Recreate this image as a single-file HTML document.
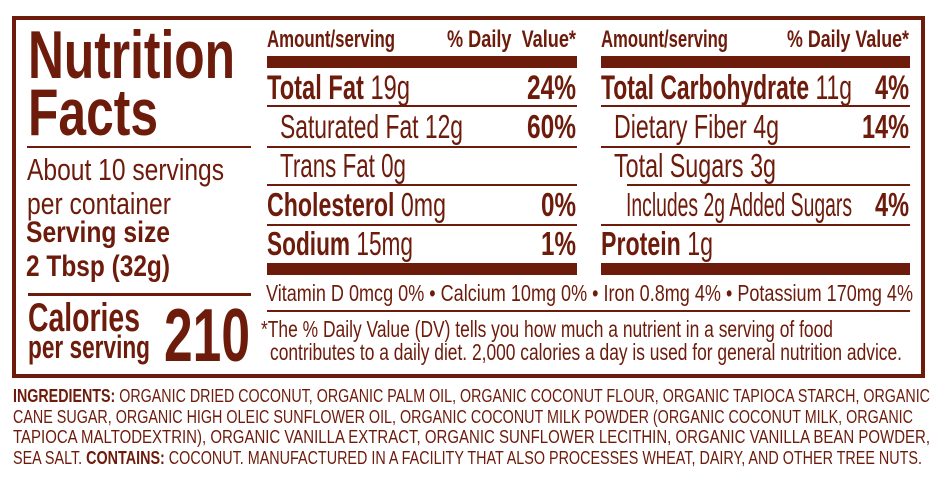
<!DOCTYPE html>
<html><head><meta charset="utf-8"><style>
html,body{margin:0;padding:0;background:#fff;width:945px;height:485px;overflow:hidden;position:relative}
body{color:#6d1b0b;font-family:"Liberation Sans",Arial,sans-serif}
.t{position:absolute;white-space:nowrap;line-height:1;transform-origin:0 0}
.b{font-weight:bold}
.r{position:absolute;background:#6d1b0b}
</style></head><body>
<div style="position:absolute;left:12px;top:16px;width:905px;height:354px;border:4px solid #6d1b0b"></div>

<div class="t b" style="left:28px;top:21px;font-size:68px" w="207">Nutrition</div>
<div class="t b" style="left:28px;top:79px;font-size:66px" w="130">Facts</div>
<div class="r" style="left:27px;top:146px;width:224px;height:2px"></div>
<div class="t" style="left:27px;top:154px;font-size:31px" w="197">About 10 servings</div>
<div class="t" style="left:27px;top:188px;font-size:31px" w="144">per container</div>
<div class="t b" style="left:26px;top:218px;font-size:30px" w="144">Serving size</div>
<div class="t b" style="left:26px;top:252px;font-size:30px" w="144">2 Tbsp (32g)</div>
<div class="r" style="left:28px;top:293px;width:223px;height:3px"></div>
<div class="t b" style="left:28px;top:298px;font-size:40px" w="112">Calories</div>
<div class="t b" style="left:28px;top:331px;font-size:32px" w="122">per serving</div>
<div class="t b" style="left:164px;top:298px;font-size:75px" w="86">210</div>

<!-- middle -->
<div class="t b" style="left:267px;top:28px;font-size:24px" w="128">Amount/serving</div>
<div class="t b" style="left:447px;top:28px;font-size:24px" w="129">% Daily&nbsp; Value*</div>
<div class="r" style="left:267px;top:56px;width:310px;height:12px"></div>
<div class="t" style="left:267px;top:71px;font-size:34px" w="143"><b>Total Fat</b> 19g</div>
<div class="t b" style="left:527px;top:71px;font-size:34px" w="49">24%</div>
<div class="r" style="left:267px;top:105px;width:310px;height:2px"></div>
<div class="t" style="left:280px;top:110px;font-size:33px" w="183">Saturated Fat 12g</div>
<div class="t b" style="left:527px;top:110px;font-size:33px" w="49">60%</div>
<div class="r" style="left:267px;top:146px;width:310px;height:2px"></div>
<div class="t" style="left:280px;top:149px;font-size:33px" w="126">Trans Fat 0g</div>
<div class="r" style="left:267px;top:184px;width:310px;height:2px"></div>
<div class="t" style="left:267px;top:188px;font-size:33px" w="179"><b>Cholesterol</b> 0mg</div>
<div class="t b" style="left:541px;top:188px;font-size:33px" w="35">0%</div>
<div class="r" style="left:267px;top:224px;width:310px;height:2px"></div>
<div class="t" style="left:267px;top:227px;font-size:33px" w="146"><b>Sodium</b> 15mg</div>
<div class="t b" style="left:541px;top:227px;font-size:33px" w="35">1%</div>
<div class="r" style="left:267px;top:263px;width:310px;height:12px"></div>

<!-- right -->
<div class="t b" style="left:601px;top:28px;font-size:24px" w="127">Amount/serving</div>
<div class="t b" style="left:787px;top:28px;font-size:24px" w="122">% Daily Value*</div>
<div class="r" style="left:601px;top:56px;width:309px;height:12px"></div>
<div class="t" style="left:601px;top:71px;font-size:34px" w="251"><b>Total Carbohydrate</b> 11g</div>
<div class="t b" style="left:875px;top:71px;font-size:34px" w="34">4%</div>
<div class="r" style="left:601px;top:105px;width:309px;height:2px"></div>
<div class="t" style="left:614px;top:110px;font-size:33px" w="165">Dietary Fiber 4g</div>
<div class="t b" style="left:862px;top:110px;font-size:33px" w="47">14%</div>
<div class="r" style="left:601px;top:146px;width:309px;height:2px"></div>
<div class="t" style="left:614px;top:149px;font-size:33px" w="162">Total Sugars 3g</div>
<div class="r" style="left:627px;top:184px;width:283px;height:2px"></div>
<div class="t" style="left:626px;top:188px;font-size:33px" w="226">Includes 2g Added Sugars</div>
<div class="t b" style="left:875px;top:188px;font-size:33px" w="34">4%</div>
<div class="r" style="left:601px;top:224px;width:309px;height:2px"></div>
<div class="t" style="left:601px;top:227px;font-size:33px" w="112"><b>Protein</b> 1g</div>
<div class="r" style="left:601px;top:263px;width:309px;height:12px"></div>

<div class="t" style="left:266px;top:282px;font-size:23px" w="647">Vitamin D 0mcg 0% • Calcium 10mg 0% • Iron 0.8mg 4% • Potassium 170mg 4%</div>
<div class="r" style="left:267px;top:310px;width:643px;height:2px"></div>
<div class="t" style="left:261px;top:318px;font-size:23px" w="572">*The % Daily Value (DV) tells you how much a nutrient in a serving of food</div>
<div class="t" style="left:270px;top:341px;font-size:23px" w="632">contributes to a daily diet. 2,000 calories a day is used for general nutrition advice.</div>

<!-- ingredients -->
<div class="t" style="left:13px;top:387px;font-size:18px" w="917"><b>INGREDIENTS:</b> ORGANIC DRIED COCONUT, ORGANIC PALM OIL, ORGANIC COCONUT FLOUR, ORGANIC TAPIOCA STARCH, ORGANIC</div>
<div class="t" style="left:13px;top:408px;font-size:18px" w="900">CANE SUGAR, ORGANIC HIGH OLEIC SUNFLOWER OIL, ORGANIC COCONUT MILK POWDER (ORGANIC COCONUT MILK, ORGANIC</div>
<div class="t" style="left:13px;top:428px;font-size:18px" w="917">TAPIOCA MALTODEXTRIN), ORGANIC VANILLA EXTRACT, ORGANIC SUNFLOWER LECITHIN, ORGANIC VANILLA BEAN POWDER,</div>
<div class="t" style="left:13px;top:449px;font-size:18px" w="909">SEA SALT. <b>CONTAINS:</b> COCONUT. MANUFACTURED IN A FACILITY THAT ALSO PROCESSES WHEAT, DAIRY, AND OTHER TREE NUTS.</div>

<script>
document.querySelectorAll('.t').forEach(function(e){
  var w=parseFloat(e.getAttribute('w'));var a=e.getBoundingClientRect().width;
  if(w&&a)e.style.transform='scaleX('+(w/a)+')';
});
</script>
</body></html>
